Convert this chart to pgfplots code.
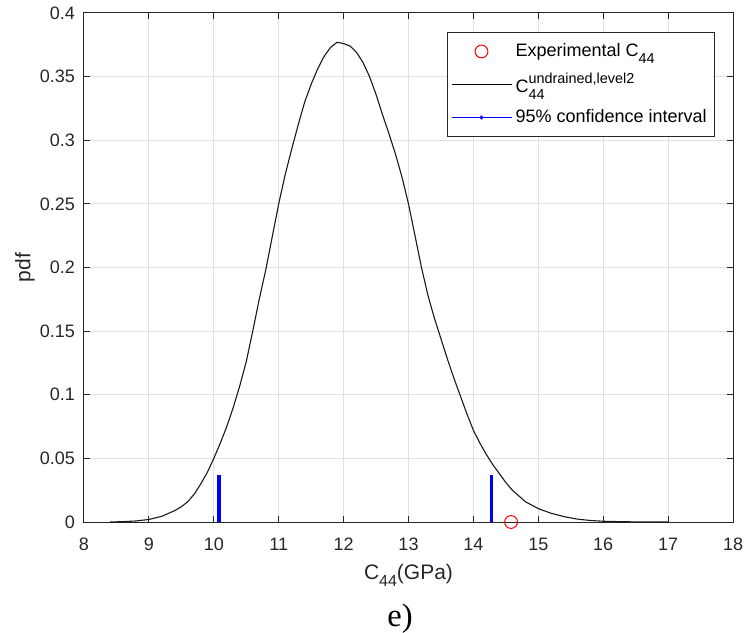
\documentclass[border=0pt]{standalone}
\usepackage{fontspec}
\setmainfont{Liberation Sans}
\newfontfamily\seriffont{Liberation Serif}
\usepackage{pgfplots}
\pgfplotsset{compat=1.18}
\pgfplotsset{mylegend/.style={legend image code/.code={\draw[mark repeat=2,mark phase=2,##1] plot coordinates {(0pt,0pt) (15pt,0pt) (30pt,0pt)};}}}
\newcommand\sub[1]{\raisebox{-3.5pt}{\fontsize{7.2}{8}\selectfont #1}}
\newcommand\lsub[1]{\raisebox{-3.8pt}{\fontsize{8}{9}\selectfont #1}}
\newcommand\sups[1]{\raisebox{4.7pt}{\fontsize{7.2}{8}\selectfont #1}}
\definecolor{axgray}{gray}{0.15}
\begin{document}
\begin{tikzpicture}
\useasboundingbox (-42pt,-55pt) rectangle (332pt,261pt);
\begin{axis}[
  at={(0,0)}, anchor=south west,
  scale only axis, width=324.5pt, height=254.5pt,
  xmin=8, xmax=18, ymin=0, ymax=0.4,
  clip=false,
  xtick={8,9,10,11,12,13,14,15,16,17,18},
  ytick={0,0.05,0.1,0.15,0.2,0.25,0.3,0.35,0.4},
  yticklabels={0,0.05,0.1,0.15,0.2,0.25,0.3,0.35,0.4},
  /pgf/number format/assume math mode=true,
  tick align=inside, major tick length=3pt,
  xtick pos=both, ytick pos=both,
  axis line style={axgray, line width=0.5pt},
  every tick/.style={axgray, line width=0.5pt},
  grid=major,
  major grid style={black!12, line width=0.5pt},
  tick label style={font=\fontsize{9}{10}\selectfont, text=axgray},
  xticklabel style={anchor=base, yshift=-14.3pt},
  yticklabel style={xshift=-1pt},
  xlabel={C\lsub{44}(GPa)},
  ylabel={pdf},
  label style={font=\fontsize{10.5}{12}\selectfont, text=axgray},
  xlabel style={at={(axis description cs:0.5,0)}, anchor=base, yshift=-28.5pt},
  ylabel style={at={(axis description cs:-0.091,0.5)}, anchor=center, rotate=0},
  legend style={at={(0.972,0.962)}, anchor=north east, draw=axgray, line width=0.5pt,
    font=\fontsize{9}{10}\selectfont, inner xsep=2pt, inner ysep=3.5pt,
    row sep=3.2pt,
    nodes={inner sep=1.8pt}, cells={anchor=west}, fill=white},
]
\addlegendimage{mylegend, only marks, mark=o, mark size=3.2pt, red, line width=0.5pt}
\addlegendentry{Experimental C\sub{44}}
\addlegendimage{mylegend, black, line width=0.5pt}
\addlegendentry{C\rlap{\sub{44}}\sups{undrained,level2}}
\addlegendimage{mylegend, blue, line width=0.4pt, mark=*, mark size=0.8pt}
\addlegendentry{95\% confidence interval}

\addplot[forget plot, black!90, line width=0.55pt] table {
x y
8.4 0
8.6 0.0003
8.8 0.0008
9.0 0.002
9.2 0.0045
9.4 0.009
9.5 0.012
9.6 0.016
9.7 0.022
9.8 0.030
9.9 0.039
10.0 0.050
10.1 0.062
10.2 0.075
10.3 0.090
10.4 0.107
10.5 0.126
10.6 0.150
10.7 0.175
10.8 0.198
10.9 0.224
11.0 0.250
11.1 0.273
11.2 0.293
11.3 0.312
11.4 0.330
11.5 0.344
11.6 0.356
11.7 0.366
11.8 0.373
11.9 0.377
12.0 0.376
12.1 0.374
12.2 0.369
12.3 0.361
12.4 0.350
12.5 0.336
12.6 0.320
12.7 0.305
12.8 0.289
12.9 0.271
13.0 0.250
13.1 0.225
13.2 0.200
13.3 0.178
13.4 0.160
13.5 0.144
13.6 0.128
13.7 0.113
13.8 0.099
13.9 0.085
14.0 0.072
14.1 0.062
14.2 0.053
14.3 0.045
14.4 0.038
14.5 0.031
14.6 0.025
14.8 0.016
15.0 0.0105
15.2 0.0068
15.4 0.0042
15.6 0.0023
15.8 0.0012
16.0 0.0006
16.3 0.0002
16.6 0.0001
17.0 0
};
\addplot[forget plot, blue, line width=1.8pt] coordinates {(10.08,0) (10.08,0.037)};
\addplot[forget plot, blue, line width=1.8pt] coordinates {(14.28,0) (14.28,0.037)};
\addplot[forget plot, only marks, mark=o, mark size=3.2pt, red, line width=0.5pt] coordinates {(14.58,0)};
\end{axis}
\node[anchor=base, font=\seriffont\fontsize{16.3}{18}\selectfont] at (158pt,-52pt) {e)};
\end{tikzpicture}
\end{document}
